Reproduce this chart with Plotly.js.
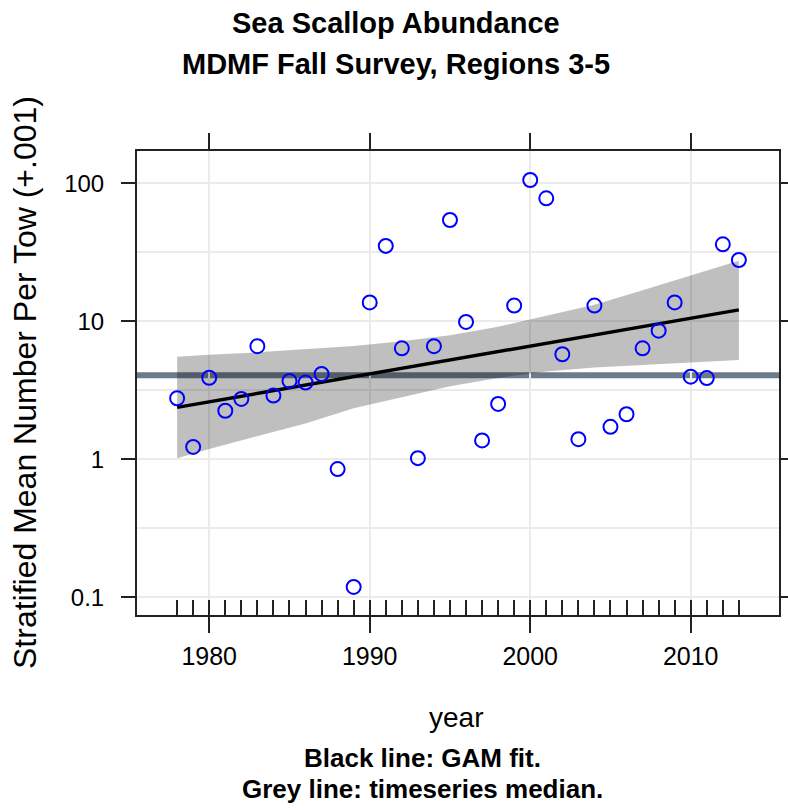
<!DOCTYPE html>
<html>
<head>
<meta charset="utf-8">
<script src="https://cdn.plot.ly/plotly-3.0.1.min.js"></script>
<style>
  html, body { margin: 0; padding: 0; background: #ffffff; }
  #chart { width: 788px; height: 810px; }
</style>
</head>
<body>
<div id="chart"></div>
<script>
// ---- data ----
const years = [1978, 1979, 1980, 1981, 1982, 1983, 1984, 1985, 1986, 1987,
               1988, 1989, 1990, 1991, 1992, 1993, 1994, 1995, 1996, 1997,
               1998, 1999, 2000, 2001, 2002, 2003, 2004, 2005, 2006, 2007,
               2008, 2009, 2010, 2011, 2012, 2013];
const abundance = [2.77, 1.23, 3.9, 2.25, 2.74, 6.6, 2.9, 3.7, 3.6, 4.15,
                   0.85, 0.119, 13.7, 35.2, 6.37, 1.02, 6.6, 54.2, 9.9, 1.37,
                   2.52, 13.0, 105.7, 77.8, 5.77, 1.40, 13.0, 1.72, 2.12, 6.37,
                   8.55, 13.7, 3.97, 3.88, 36.1, 27.8];
const fitYears = [1978, 2013];
const fitValues = [2.38, 12.1];
const bandYears = [1978, 1980, 1983, 1986, 1989, 1992, 1995, 1998, 2001, 2004, 2007, 2010, 2013];
const bandUpper = [5.53, 5.73, 5.96, 6.24, 6.61, 7.16, 7.94, 9.12, 10.96, 13.18, 16.79, 21.6, 27.5];
const bandLower = [1.02, 1.19, 1.48, 1.82, 2.34, 2.82, 3.39, 3.89, 4.32, 4.62, 4.84, 5.01, 5.25];
const medianValue = 4.06;

const xTickVals = [1980, 1990, 2000, 2010];
const xTickText = ['1980', '1990', '2000', '2010'];
const yTickVals = [0.1, 1, 10, 100];
const yTickText = ['0.1', '1', '10', '100'];
const yMinorVals = [0.08, 0.09, 0.2, 0.3, 0.4, 0.5, 0.6, 0.7, 0.8, 0.9,
                    2, 3, 4, 5, 6, 7, 8, 9, 20, 30, 40, 50, 60, 70, 80, 90];
const yGridVals = [0.1, 0.316, 1, 3.16, 10, 31.6, 100];

const titleLines = ['Sea Scallop Abundance', 'MDMF Fall Survey, Regions 3-5'];
const xTitle = 'year';
const yTitle = 'Stratified Mean Number Per Tow (+.001)';
const noteLines = ['Black line: GAM fit.', 'Grey line: timeseries median.'];

// ---- layout geometry ----
const W = 788, H = 810;
const M = { l: 137, r: 9, t: 151, b: 195 };
const plotW = W - M.l - M.r, plotH = H - M.t - M.b;
const px = x => (x - M.l) / plotW;
const py = y => (H - M.b - y) / plotH;

const xRange = [1975.5, 2015.5];
const yRange = [-1.128, 2.234];
const FONT = 'Liberation Sans, Arial, sans-serif';
const AX = '#222222';

const traces = [
  {
    x: bandYears.concat(bandYears.slice().reverse()),
    y: bandUpper.concat(bandLower.slice().reverse()),
    type: 'scatter', mode: 'lines', fill: 'toself',
    fillcolor: 'rgba(0,0,0,0.25)', line: { width: 0 },
    hoverinfo: 'skip', showlegend: false, xaxis: 'x', yaxis: 'y'
  },
  {
    x: fitYears, y: fitValues, type: 'scatter', mode: 'lines',
    line: { color: '#000000', width: 3.5 }, showlegend: false,
    xaxis: 'x', yaxis: 'y'
  },
  {
    x: years, y: abundance, type: 'scatter', mode: 'markers',
    marker: { symbol: 'circle-open', size: 14, color: '#0000FF', line: { width: 2, color: '#0000FF' } },
    showlegend: false, xaxis: 'x2', yaxis: 'y2'
  }
];

const baseY = { type: 'log', range: yRange, fixedrange: true, zeroline: false };
const baseX = { range: xRange, fixedrange: true, zeroline: false };

const layout = {
  width: W, height: H,
  margin: M,
  paper_bgcolor: '#ffffff', plot_bgcolor: '#ffffff',
  font: { family: FONT, color: '#000000' },
  showlegend: false,
  xaxis: Object.assign({}, baseX, {
    tickmode: 'array', tickvals: xTickVals, ticktext: xTickText,
    ticks: 'outside', ticklen: 16, tickwidth: 2, tickcolor: AX,
    showline: true, linewidth: 2, linecolor: AX, mirror: 'ticks',
    showgrid: true, gridcolor: '#EBEBEB', gridwidth: 2,
    tickfont: { size: 25, family: FONT, color: '#000' }, ticklabelstandoff: 2
  }),
  xaxis2: Object.assign({}, baseX, {
    overlaying: 'x', anchor: 'y', side: 'bottom',
    tickmode: 'array', tickvals: years, ticks: 'inside', ticklen: 15, tickwidth: 2, tickcolor: AX,
    showticklabels: false, showgrid: false, showline: false
  }),
  yaxis: Object.assign({}, baseY, {
    tickmode: 'array', tickvals: yGridVals, ticks: '', showticklabels: false,
    showgrid: true, gridcolor: '#EBEBEB', gridwidth: 2,
    showline: true, linewidth: 2, linecolor: AX, mirror: true
  }),
  yaxis2: Object.assign({}, baseY, {
    overlaying: 'y', anchor: 'x', side: 'left',
    tickmode: 'array', tickvals: yTickVals, ticktext: yTickText,
    ticks: 'outside', ticklen: 15, tickwidth: 2, tickcolor: AX, mirror: 'ticks',
    showgrid: false, showline: false,
    tickfont: { size: 24, family: FONT, color: '#000' }, ticklabelstandoff: 12
  }),
  yaxis3: Object.assign({}, baseY, {
    overlaying: 'y', anchor: 'x', side: 'left',
    tickmode: 'array', tickvals: yMinorVals, ticks: 'outside', ticklen: 9, tickwidth: 2,
    tickcolor: AX, mirror: 'ticks', showticklabels: false, showgrid: false, showline: false
  }),
  shapes: [
    { type: 'line', layer: 'below', xref: 'paper', yref: 'y', x0: 0, x1: 1,
      y0: medianValue, y1: medianValue, line: { color: '#6C7B8B', width: 6 } }
  ],
  annotations: [
    { text: '<b>' + titleLines[0] + '</b>', xref: 'paper', yref: 'paper', x: px(396), y: py(23),
      xanchor: 'center', yanchor: 'middle', showarrow: false, font: { size: 29, family: FONT } },
    { text: '<b>' + titleLines[1] + '</b>', xref: 'paper', yref: 'paper', x: px(396), y: py(64),
      xanchor: 'center', yanchor: 'middle', showarrow: false, font: { size: 29, family: FONT } },
    { text: xTitle, xref: 'paper', yref: 'paper', x: px(456), y: py(717),
      xanchor: 'center', yanchor: 'middle', showarrow: false, font: { size: 28, family: FONT } },
    { text: yTitle, xref: 'paper', yref: 'paper', x: px(25), y: py(383), textangle: -90,
      xanchor: 'center', yanchor: 'middle', showarrow: false, font: { size: 32, family: FONT } },
    { text: '<b>' + noteLines[0] + '</b>', xref: 'paper', yref: 'paper', x: px(422), y: py(758),
      xanchor: 'center', yanchor: 'middle', showarrow: false, font: { size: 26, family: FONT } },
    { text: '<b>' + noteLines[1] + '</b>', xref: 'paper', yref: 'paper', x: px(422), y: py(789),
      xanchor: 'center', yanchor: 'middle', showarrow: false, font: { size: 26, family: FONT } }
  ]
};

Plotly.newPlot('chart', traces, layout, { staticPlot: true, displayModeBar: false });
</script>
</body>
</html>
